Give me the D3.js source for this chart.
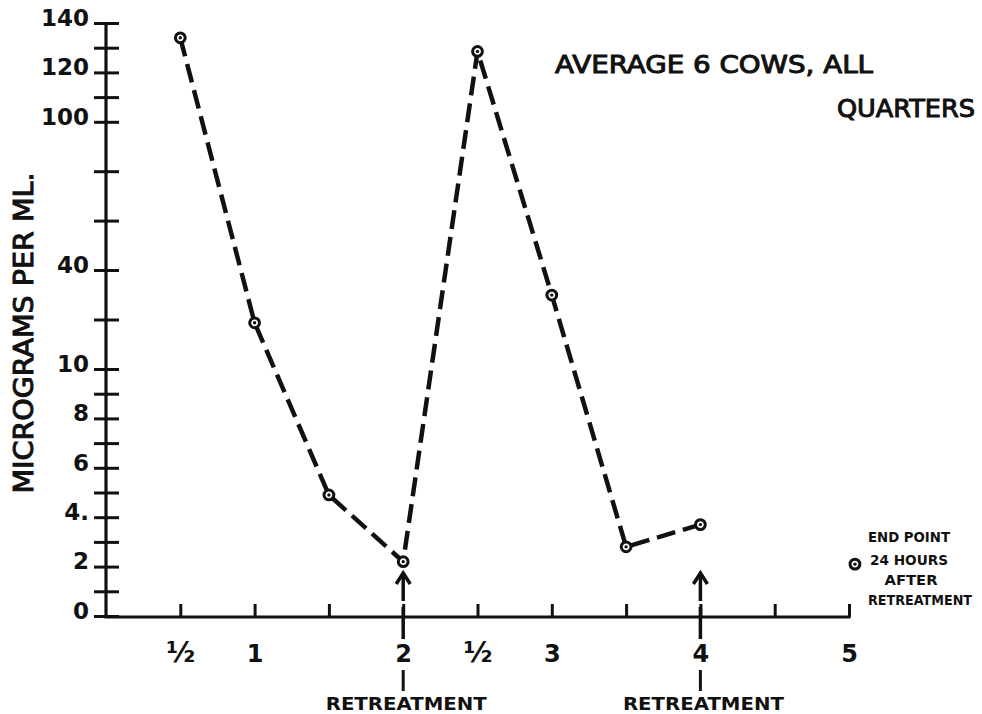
<!DOCTYPE html>
<html>
<head>
<meta charset="utf-8">
<script src="https://cdn.jsdelivr.net/npm/d3@7"></script>
<style>
  html, body { margin: 0; padding: 0; background: #fff; }
  svg { display: block; }
  text { font-family: "DejaVu Sans", "Liberation Sans", sans-serif; font-weight: bold; fill: #111; }
</style>
</head>
<body>
<svg id="chart" width="982" height="714"></svg>
<script>
// Hours after treatment and mean concentration (micrograms per ml)
const hours = [0.5, 1, 1.5, 2, 2.5, 3, 3.5, 4];
const microgramsPerMl = [134, 24, 4.9, 2.2, 128.5, 32.4, 2.8, 3.7];

// Separate end point: 24 hours after retreatment
const endPointHour = [5.04];
const endPointValue = [2.1];

// Hours at which the cows were retreated
const retreatmentHours = [2, 4];

// Axis ticks and labels
const yTickValues = [0, 1, 2, 3, 4, 5, 6, 7, 8, 9, 10, 25, 40, 60, 80, 100, 110, 120, 130, 140];
const yTickLabels = ["0", "", "2", "", "4.", "", "6", "", "8", "", "10", "", "40", "", "", "100", "", "120", "", "140"];
const xTickValues = [0.5, 1, 1.5, 2, 2.5, 3, 3.5, 4, 4.5, 5];
const xTickLabels = ["\u00BD", "1", "", "2", "\u00BD", "3", "", "4", "", "5"];

const svg = d3.select("#chart");
const ink = "#111";

// Broken (piecewise) vertical scale: 0-10 stretched, 10-40 compressed, 40-140 linear
const y = d3.scaleLinear()
  .domain([0, 10, 40, 140])
  .range([616, 369, 270, 23]);

const x = d3.scaleLinear()
  .domain([0, 5])
  .range([106, 849]);

const axisY = y(0);

// ---- Y axis ----
const yAxis = d3.axisLeft(y)
  .tickValues(yTickValues)
  .tickSize(12)
  .tickPadding(6)
  .tickFormat((d, i) => yTickLabels[i]);

const gy = svg.append("g")
  .attr("transform", `translate(${x(0)},0)`)
  .call(yAxis);

gy.select(".domain").remove();
gy.selectAll(".tick line")
  .attr("x1", -12).attr("x2", 13)
  .attr("stroke", ink).attr("stroke-width", 3);
gy.selectAll(".tick text")
  .attr("x", -17)
  .attr("dy", "0.1em")
  .style("font-size", "23px")
  .style("font-family", "'DejaVu Sans', sans-serif")
  .style("font-weight", "bold")
  .attr("fill", ink);

gy.append("line")
  .attr("x1", 0).attr("x2", 0)
  .attr("y1", y(140)).attr("y2", axisY + 1.5)
  .attr("stroke", ink).attr("stroke-width", 3.2);

// ---- X axis ----
const xAxis = d3.axisBottom(x)
  .tickValues(xTickValues)
  .tickSize(-13)
  .tickPadding(0)
  .tickFormat((d, i) => xTickLabels[i]);

const gx = svg.append("g")
  .attr("transform", `translate(0,${axisY + 1})`)
  .call(xAxis);

gx.select(".domain").remove();
gx.selectAll(".tick line")
  .attr("stroke", ink).attr("stroke-width", 3);
gx.selectAll(".tick text")
  .attr("y", 45)
  .attr("dy", 0)
  .style("font-size", (d, i) => xTickLabels[i] === "\u00BD" ? "28px" : "24px")
  .style("font-family", "'DejaVu Sans', sans-serif")
  .style("font-weight", "bold")
  .attr("fill", ink);

gx.append("line")
  .attr("x1", x(0) - 1.5).attr("x2", x(5) + 1.5)
  .attr("y1", 0).attr("y2", 0)
  .attr("stroke", ink).attr("stroke-width", 3.2);

// ---- Retreatment markers: arrow up to the axis, stem below, label ----
const retreat = svg.append("g").selectAll("g")
  .data(retreatmentHours)
  .join("g")
  .attr("transform", d => `translate(${x(d)},${axisY + 1})`);

retreat.append("line")
  .attr("x1", 0).attr("x2", 0).attr("y1", -41).attr("y2", -16)
  .attr("stroke", ink).attr("stroke-width", 3.5);
retreat.append("path")
  .attr("d", "M-7,-33 L0,-44 L7,-33")
  .attr("fill", "none").attr("stroke", ink).attr("stroke-width", 3.5)
  .attr("stroke-linejoin", "miter");
retreat.append("line")
  .attr("x1", 0).attr("x2", 0).attr("y1", -10).attr("y2", 22)
  .attr("stroke", ink).attr("stroke-width", 3.5);
retreat.append("line")
  .attr("x1", 0).attr("x2", 0).attr("y1", 53).attr("y2", 74)
  .attr("stroke", ink).attr("stroke-width", 3);
retreat.append("text")
  .attr("x", 3).attr("y", 93)
  .attr("text-anchor", "middle")
  .attr("textLength", 161)
  .attr("lengthAdjust", "spacingAndGlyphs")
  .style("font-size", "18px")
  .text("RETREATMENT");

// ---- Dashed concentration curve ----
const pts = hours.map((h, i) => [h, microgramsPerMl[i]]);

svg.append("path")
  .datum(pts)
  .attr("fill", "none")
  .attr("stroke", ink)
  .attr("stroke-width", 4.5)
  .attr("stroke-dasharray", "19,8")
  .attr("d", d3.line().x(d => x(d[0])).y(d => y(d[1])));

// Circled-dot markers
function marker(sel) {
  sel.append("circle")
    .attr("r", 4.9)
    .attr("fill", "#fff").attr("stroke", ink).attr("stroke-width", 3);
  sel.append("circle")
    .attr("r", 1.7)
    .attr("fill", ink);
}

svg.append("g").selectAll("g")
  .data(pts)
  .join("g")
  .attr("transform", d => `translate(${x(d[0])},${y(d[1])})`)
  .call(marker);

svg.append("g").selectAll("g")
  .data(endPointHour.map((h, i) => [h, endPointValue[i]]))
  .join("g")
  .attr("transform", d => `translate(${x(d[0])},${y(d[1])})`)
  .call(marker);

// End point note
const noteLines = [
  { t: "END POINT", cx: 909, y: 542, w: 82 },
  { t: "24 HOURS", cx: 909, y: 565, w: 78 },
  { t: "AFTER", cx: 911, y: 585, w: 53 },
  { t: "RETREATMENT", cx: 920, y: 605, w: 104 }
];
svg.append("g").selectAll("text")
  .data(noteLines)
  .join("text")
  .attr("x", d => d.cx).attr("y", d => d.y)
  .attr("text-anchor", "middle")
  .attr("textLength", d => d.w)
  .attr("lengthAdjust", "spacingAndGlyphs")
  .style("font-size", "14px")
  .text(d => d.t);

// ---- Title ----
svg.append("text")
  .attr("x", 555).attr("y", 73)
  .attr("textLength", 318)
  .attr("lengthAdjust", "spacingAndGlyphs")
  .style("font-size", "24px")
  .style("font-weight", "normal")
  .style("stroke", ink).style("stroke-width", 1)
  .text("AVERAGE 6 COWS, ALL");
svg.append("text")
  .attr("x", 837).attr("y", 117)
  .attr("textLength", 138)
  .attr("lengthAdjust", "spacingAndGlyphs")
  .style("font-size", "24px")
  .style("font-weight", "normal")
  .style("stroke", ink).style("stroke-width", 1)
  .text("QUARTERS");

// ---- Y axis title ----
svg.append("text")
  .attr("transform", "translate(33,333) rotate(-90)")
  .attr("text-anchor", "middle")
  .attr("textLength", 321)
  .attr("lengthAdjust", "spacingAndGlyphs")
  .style("font-size", "26px")
  .style("font-weight", "normal")
  .style("stroke", ink).style("stroke-width", 1)
  .text("MICROGRAMS PER ML.");
</script>
</body>
</html>
